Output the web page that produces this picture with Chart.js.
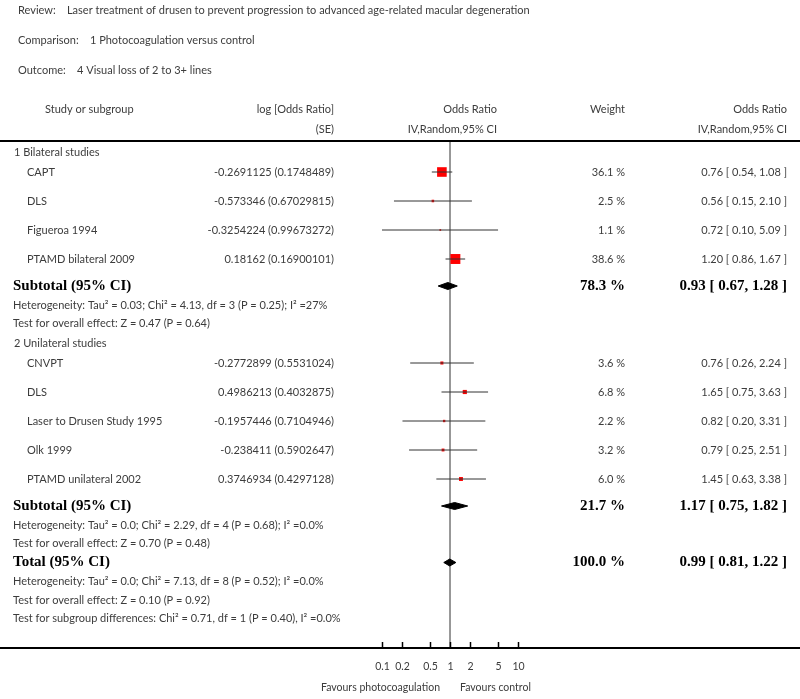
<!DOCTYPE html>
<html>
<head>
<meta charset="utf-8">
<script src="https://cdn.jsdelivr.net/npm/chart.js@4/dist/chart.umd.min.js"></script>
<style>
  body { margin: 0; background: #fff; }
  #wrap { width: 800px; height: 699px; position: relative; }
</style>
</head>
<body>
<div id="wrap"><canvas id="forest"></canvas></div>
<script>
// study rows
const studies = ['CAPT', 'DLS', 'Figueroa 1994', 'PTAMD bilateral 2009',
                 'CNVPT', 'DLS', 'Laser to Drusen Study 1995', 'Olk 1999', 'PTAMD unilateral 2002'];
const studyGroup = [1, 1, 1, 1, 2, 2, 2, 2, 2];
const logOR = [-0.2691125, -0.573346, -0.3254224, 0.18162, -0.2772899, 0.4986213, -0.1957446, -0.238411, 0.3746934];
const logSE = [0.1748489, 0.67029815, 0.99673272, 0.16900101, 0.5531024, 0.4032875, 0.7104946, 0.5902647, 0.4297128];
const weights = [36.1, 2.5, 1.1, 38.6, 3.6, 6.8, 2.2, 3.2, 6.0];
const oddsRatio = [0.76, 0.56, 0.72, 1.20, 0.76, 1.65, 0.82, 0.79, 1.45];
const ciLow = [0.54, 0.15, 0.10, 0.86, 0.26, 0.75, 0.20, 0.25, 0.63];
const ciHigh = [1.08, 2.10, 5.09, 1.67, 2.24, 3.63, 3.31, 2.51, 3.38];

// pooled results: subtotal 1, subtotal 2, total
const pooledLabel = ['Subtotal (95% CI)', 'Subtotal (95% CI)', 'Total (95% CI)'];
const pooledWeight = [78.3, 21.7, 100.0];
const pooledOR = [0.93, 1.17, 0.99];
const pooledLow = [0.67, 0.75, 0.81];
const pooledHigh = [1.28, 1.82, 1.22];

const groupNames = ['1 Bilateral studies', '2 Unilateral studies'];
const groupStats = [
  ['Heterogeneity: Tau\u00B2 = 0.03; Chi\u00B2 = 4.13, df = 3 (P = 0.25); I\u00B2 =27%',
   'Test for overall effect: Z = 0.47 (P = 0.64)'],
  ['Heterogeneity: Tau\u00B2 = 0.0; Chi\u00B2 = 2.29, df = 4 (P = 0.68); I\u00B2 =0.0%',
   'Test for overall effect: Z = 0.70 (P = 0.48)']
];
const totalStats = [
  'Heterogeneity: Tau\u00B2 = 0.0; Chi\u00B2 = 7.13, df = 8 (P = 0.52); I\u00B2 =0.0%',
  'Test for overall effect: Z = 0.10 (P = 0.92)',
  'Test for subgroup differences: Chi\u00B2 = 0.71, df = 1 (P = 0.40), I\u00B2 =0.0%'
];

const xTicks = [0.1, 0.2, 0.5, 1, 2, 5, 10];

// vertical step (px) between consecutive row kinds
const STEP = {
  'start>group': 10, 'group>study': 20, 'study>study': 29, 'study>pooled': 27,
  'pooled>stat': 19, 'stat>stat': 18.5, 'stat>group': 19.5, 'stat>pooled': 19
};
const PLOT_H = 506;

// build the row list top-down
const rows = [];
let prev = 'start', cursor = 0;
function addRow(type, extra) {
  cursor += STEP[prev + '>' + type];
  rows.push(Object.assign({ type: type, y: cursor }, extra));
  prev = type;
}
[1, 2].forEach(g => {
  addRow('group', { text: groupNames[g - 1] });
  studyGroup.forEach((sg, i) => { if (sg === g) addRow('study', { i: i }); });
  addRow('pooled', { k: g - 1 });
  groupStats[g - 1].forEach(t => addRow('stat', { text: t }));
});
addRow('pooled', { k: 2 });
totalStats.forEach(t => addRow('stat', { text: t }));

const studyRows = rows.filter(r => r.type === 'study');
const pooledRows = rows.filter(r => r.type === 'pooled');

// CI whiskers as one broken line
const ciData = [];
studyRows.forEach(r => {
  ciData.push({ x: ciLow[r.i], y: r.y }, { x: ciHigh[r.i], y: r.y }, { x: 1, y: null });
});
const boxData = studyRows.map(r => ({ x: oddsRatio[r.i], y: r.y }));
// square side grows with sqrt(weight); rect point side = 2 * r * SQRT1_2
const boxRadius = studyRows.map(r => 1.6 * Math.sqrt(weights[r.i]) / (2 * Math.SQRT1_2));

const DH = 3.5;
const diamondSets = pooledRows.map(r => ({
  data: [
    { x: pooledLow[r.k], y: r.y }, { x: pooledOR[r.k], y: r.y - DH },
    { x: pooledHigh[r.k], y: r.y }, { x: pooledOR[r.k], y: r.y + DH },
    { x: pooledLow[r.k], y: r.y }
  ],
  showLine: true, fill: 'shape', backgroundColor: '#000', borderColor: '#000',
  borderWidth: 1, pointRadius: 0, tension: 0
}));

const SANS = 'Lato, "DejaVu Sans", sans-serif';
const SERIF = '"Liberation Serif", "DejaVu Serif", serif';
const GREY = '#3c3c3c';

const tablePlugin = {
  id: 'tableText',
  afterDraw(chart) {
    const ctx = chart.ctx;
    const xs = chart.scales.x, ys = chart.scales.y;
    const W = chart.width;
    ctx.save();
    ctx.textBaseline = 'middle';

    // title block
    ctx.fillStyle = GREY;
    ctx.font = '11px ' + SANS;
    ctx.textAlign = 'left';
    ctx.fillText('Review:    Laser treatment of drusen to prevent progression to advanced age-related macular degeneration', 18, 10);
    ctx.fillText('Comparison:    1 Photocoagulation versus control', 18, 40);
    ctx.fillText('Outcome:    4 Visual loss of 2 to 3+ lines', 18, 70);

    // column headers
    ctx.fillText('Study or subgroup', 45, 109);
    ctx.textAlign = 'right';
    ctx.fillText('log [Odds Ratio]', 334, 109);
    ctx.fillText('(SE)', 334, 129);
    ctx.fillText('Odds Ratio', 497, 109);
    ctx.fillText('IV,Random,95% CI', 497, 129);
    ctx.fillText('Weight', 625, 109);
    ctx.fillText('Odds Ratio', 787, 109);
    ctx.fillText('IV,Random,95% CI', 787, 129);

    // header rule
    ctx.strokeStyle = '#000';
    ctx.lineWidth = 2;
    ctx.beginPath(); ctx.moveTo(0, 141); ctx.lineTo(W, 141); ctx.stroke();

    rows.forEach(r => {
      const py = ys.getPixelForValue(r.y);
      if (r.type === 'group' || r.type === 'stat') {
        ctx.font = '11px ' + SANS;
        ctx.fillStyle = GREY;
        ctx.textAlign = 'left';
        ctx.fillText(r.text, r.type === 'group' ? 14 : 13, py);
      } else if (r.type === 'study') {
        const i = r.i;
        ctx.font = '11px ' + SANS;
        ctx.fillStyle = GREY;
        ctx.textAlign = 'left';
        ctx.fillText(studies[i], 27, py);
        ctx.textAlign = 'right';
        ctx.fillText(logOR[i] + ' (' + logSE[i] + ')', 334, py);
        ctx.fillText(weights[i].toFixed(1) + ' %', 625, py);
        ctx.fillText(oddsRatio[i].toFixed(2) + ' [ ' + ciLow[i].toFixed(2) + ', ' + ciHigh[i].toFixed(2) + ' ]', 787, py);
      } else {
        const k = r.k;
        ctx.font = 'bold 15px ' + SERIF;
        ctx.fillStyle = '#000';
        ctx.textAlign = 'left';
        ctx.fillText(pooledLabel[k], 13, py);
        ctx.textAlign = 'right';
        ctx.fillText(pooledWeight[k].toFixed(1) + ' %', 625, py);
        ctx.fillText(pooledOR[k].toFixed(2) + ' [ ' + pooledLow[k].toFixed(2) + ', ' + pooledHigh[k].toFixed(2) + ' ]', 787, py);
      }
    });

    // bottom axis
    const ay = chart.chartArea.bottom;
    ctx.strokeStyle = '#000';
    ctx.lineWidth = 2;
    ctx.beginPath(); ctx.moveTo(0, ay); ctx.lineTo(W, ay); ctx.stroke();
    ctx.lineWidth = 1.5;
    ctx.font = '10.5px ' + SANS;
    ctx.fillStyle = GREY;
    ctx.textAlign = 'center';
    xTicks.forEach(t => {
      const px = Math.round(xs.getPixelForValue(t)) + 0.5;
      ctx.beginPath(); ctx.moveTo(px, ay); ctx.lineTo(px, ay - 6); ctx.stroke();
      ctx.fillText(String(t), px, ay + 19);
    });
    const x1 = xs.getPixelForValue(1);
    ctx.textAlign = 'right';
    ctx.fillText('Favours photocoagulation', x1 - 10, ay + 40);
    ctx.textAlign = 'left';
    ctx.fillText('Favours control', x1 + 10, ay + 40);
    ctx.restore();
  }
};

new Chart(document.getElementById('forest'), {
  type: 'scatter',
  data: {
    datasets: [
      { data: ciData, showLine: true, spanGaps: false, borderColor: '#333', borderWidth: 1,
        pointRadius: 0, fill: false },
      { data: boxData, backgroundColor: '#ff0000', borderWidth: 0, pointStyle: 'rect',
        pointRadius: boxRadius },
      ...diamondSets,
      { data: [{ x: 1, y: 0 }, { x: 1, y: PLOT_H }], showLine: true, borderColor: '#8a8a8a',
        borderWidth: 1, pointRadius: 0 }
    ]
  },
  options: {
    responsive: true,
    maintainAspectRatio: false,
    animation: false,
    layout: { padding: { left: 314, right: 214, top: 142, bottom: 51 } },
    plugins: { legend: { display: false }, tooltip: { enabled: false } },
    scales: {
      x: { type: 'logarithmic', min: 0.01, max: 100, display: false },
      y: { type: 'linear', min: 0, max: PLOT_H, reverse: true, display: false }
    }
  },
  plugins: [tablePlugin]
});
</script>
</body>
</html>
